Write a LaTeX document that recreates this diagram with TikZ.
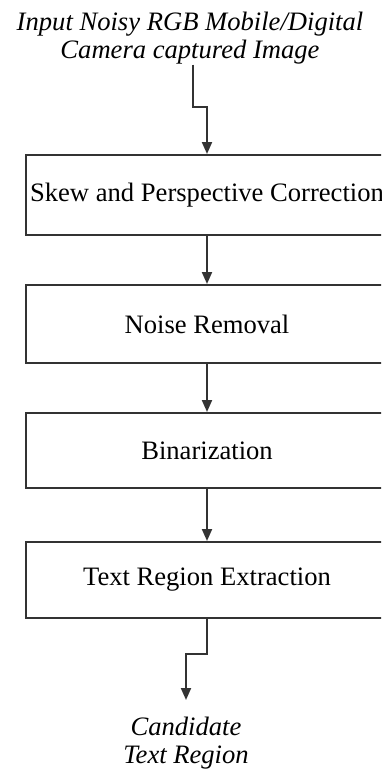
\documentclass[tikz,border=0pt]{standalone}
\usepackage{fontspec}
\setmainfont{Liberation Serif}
\usetikzlibrary{arrows.meta}
\begin{document}
\begin{tikzpicture}[x=0.5pt,y=-0.5pt,
  lbl/.style={font=\fontsize{13.3}{14.2}\selectfont\itshape, align=center, inner sep=0pt},
  stepbox/.style={draw=black!80, line width=1pt, minimum width=181pt, inner sep=0pt,
    font=\fontsize{13.3}{15}\selectfont},
  arr/.style={draw=black!80, line width=1pt, -{Triangle[width=5pt,length=6pt]}}]
\useasboundingbox (0,0) rectangle (381,772);
\clip (0,0) rectangle (381,772);
\fill[white] (0,0) rectangle (381,772);
\node[lbl] (in) at (190,38) {Input Noisy RGB Mobile/Digital\\Camera captured Image};
\node[stepbox, minimum height=40pt] (b1) at (207,195) {Skew and Perspective Correction};
\node[stepbox, minimum height=39pt] (b2) at (207,324) {Noise Removal};
\node[stepbox, minimum height=37.5pt] (b3) at (207,450.5) {Binarization};
\node[stepbox, minimum height=38pt] (b4) at (207,580) {Text Region Extraction};
\node[lbl] (out) at (186,743) {Candidate\\Text Region};
\coordinate (a1) at (193,106.5);
\coordinate (a2) at (186,654);
\coordinate (a3) at (186,700);
\draw[arr] (in.south -| a1) -- (a1) -| (b1.north);
\draw[arr] (b1) -- (b2);
\draw[arr] (b2) -- (b3);
\draw[arr] (b3) -- (b4);
\draw[arr] (b4.south) |- (a2) -- (a3);
\end{tikzpicture}
\end{document}
